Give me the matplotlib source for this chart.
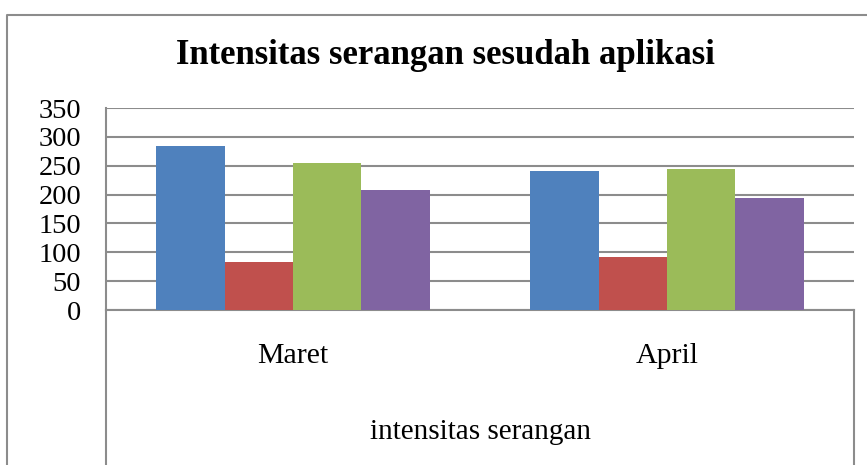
import matplotlib
matplotlib.use("Agg")
import matplotlib.pyplot as plt
from matplotlib.lines import Line2D
import numpy as np

categories = ["Maret", "April"]
series_1 = [284, 241]
series_2 = [83, 91]
series_3 = [255, 244]
series_4 = [208, 194]
y_ticks = [0, 50, 100, 150, 200, 250, 300, 350]
title = "Intensitas serangan sesudah aplikasi"
x_label = "intensitas serangan"

colors = ["#4F81BD", "#C0504D", "#9BBB59", "#8064A2"]
series = [series_1, series_2, series_3, series_4]

W, H = 867, 465
fig = plt.figure(figsize=(W / 100, H / 100), dpi=100)
plt.rcParams['font.family'] = ['Liberation Serif', 'DejaVu Serif']

# plot area in pixels
left, right, top, bottom = 106, 854, 108, 310
ax = fig.add_axes([left / W, 1 - bottom / H, (right - left) / W, (bottom - top) / H])

x = np.arange(len(categories))
bw = 0.73 / 4
for i, (vals, c) in enumerate(zip(series, colors)):
    ax.bar(x + (i - 1.5) * bw, vals, width=bw, color=c, zorder=3)

ax.set_xlim(-0.5, len(categories) - 0.5)
ax.set_ylim(0, 350)
ax.set_yticks(y_ticks)
ax.set_yticklabels([str(t) for t in y_ticks], fontsize=20.5)
ax.yaxis.grid(True, color="#8c8c8c", linewidth=1.5, zorder=0)
ax.set_axisbelow(True)
ax.tick_params(axis='y', length=0, pad=18)
ax.set_xticks([])
for s in ["top", "right"]:
    ax.spines[s].set_visible(False)
ax.spines["left"].set_color("#8c8c8c")
ax.spines["left"].set_linewidth(1.5)
ax.spines["bottom"].set_color("#8c8c8c")
ax.spines["bottom"].set_linewidth(1.5)

# category labels below axis
trans = ax.get_xaxis_transform()
for xi, cat in zip(x, categories):
    ax.text(xi, -(356 - bottom) / (bottom - top), cat, transform=trans,
            ha="center", va="center", fontsize=21.5)
ax.text(0.5, -(432 - bottom) / (bottom - top), x_label, transform=ax.transAxes,
        ha="center", va="center", fontsize=21)

# vertical separator lines of category box
for px in (left, right):
    fig.add_artist(Line2D([px / W, px / W], [1 - bottom / H, 0], color="#8c8c8c",
                          linewidth=1.5, transform=fig.transFigure))

# outer chart border (cut at right/bottom)
fig.add_artist(Line2D([7 / W, 7 / W, 1.0], [0, 1 - 15 / H, 1 - 15 / H],
                      color="#8c8c8c", linewidth=1.5, transform=fig.transFigure))

fig.text(445 / W, 1 - 55 / H, title, ha="center", va="center",
         fontsize=25, fontweight="bold")

fig.savefig("out.png", dpi=100)
